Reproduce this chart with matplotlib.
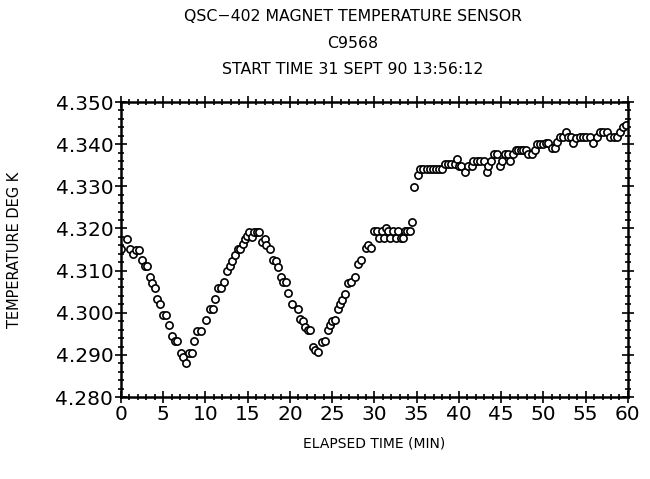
import numpy as np
import matplotlib.pyplot as plt
from matplotlib.ticker import MultipleLocator, FormatStrFormatter

# elapsed time (min) and sensor temperature (K)
t_min = [0.0, 0.7, 1.06, 1.38, 1.73, 2.1, 2.44, 2.8, 3.1, 3.4, 3.7, 4.0, 4.3, 4.65,
         5.0, 5.35, 5.7, 6.05, 6.4, 6.6, 7.1, 7.4, 7.7, 8.0, 8.4, 8.7, 9.05, 9.45,
         10.06, 10.5, 10.85, 11.1, 11.5, 11.9, 12.2, 12.5, 12.9, 13.2, 13.5, 13.8,
         14.1, 14.4, 14.7, 14.95, 15.2, 15.5, 15.7, 16.1, 16.4, 16.65, 17.0, 17.2,
         17.6, 17.95, 18.3, 18.6, 18.9, 19.2, 19.5, 19.8, 20.25, 20.9, 21.2, 21.6,
         21.8, 22.1, 22.4, 22.75, 23.0, 23.35, 23.75, 24.1, 24.45, 24.7, 25.0, 25.3,
         25.65, 25.9, 26.2, 26.5, 26.9, 27.2, 27.7, 28.0, 28.4, 28.95, 29.25, 29.6,
         29.9, 30.3, 30.6, 30.9, 31.1, 31.35, 31.6, 31.9, 32.2, 32.5, 32.8, 33.1,
         33.35, 33.6, 33.9, 34.2, 34.4, 34.7, 35.2, 35.4, 35.8, 36.2, 36.6, 36.9,
         37.3, 37.7, 38.05, 38.3, 38.7, 39.1, 39.5, 39.8, 40.0, 40.3, 40.7, 41.1,
         41.5, 41.7, 42.1, 42.5, 43.0, 43.3, 43.5, 43.8, 44.1, 44.5, 44.85, 45.05,
         45.4, 45.8, 46.0, 46.4, 46.7, 47.0, 47.3, 47.6, 47.9, 48.2, 48.6, 49.0,
         49.2, 49.6, 50.0, 50.3, 50.6, 51.0, 51.4, 51.6, 52.0, 52.3, 52.7, 52.95,
         53.3, 53.5, 53.9, 54.3, 54.7, 55.1, 55.5, 55.9, 56.3, 56.7, 57.1, 57.5,
         57.9, 58.3, 58.7, 59.1, 59.4, 59.8]
temp_k = [4.3151, 4.3175, 4.3151, 4.3139, 4.3150, 4.3150, 4.3126, 4.3110, 4.3110,
          4.3085, 4.3071, 4.3058, 4.3032, 4.3020, 4.2994, 4.2994, 4.2970, 4.2945,
          4.2932, 4.2932, 4.2905, 4.2895, 4.2880, 4.2905, 4.2905, 4.2932, 4.2957,
          4.2957, 4.2983, 4.3008, 4.3008, 4.3032, 4.3059, 4.3059, 4.3072, 4.3099,
          4.3111, 4.3123, 4.3138, 4.3151, 4.3151, 4.3164, 4.3176, 4.3182, 4.3191,
          4.3179, 4.3191, 4.3191, 4.3191, 4.3168, 4.3176, 4.3162, 4.3151, 4.3126,
          4.3123, 4.3109, 4.3086, 4.3074, 4.3074, 4.3046, 4.3021, 4.3009, 4.2986,
          4.2980, 4.2966, 4.2958, 4.2958, 4.2919, 4.2911, 4.2906, 4.2930, 4.2933,
          4.2958, 4.2972, 4.2981, 4.2983, 4.3008, 4.3021, 4.3031, 4.3044, 4.3071,
          4.3074, 4.3085, 4.3115, 4.3126, 4.3153, 4.3162, 4.3153, 4.3194, 4.3194,
          4.3177, 4.3195, 4.3177, 4.3201, 4.3194, 4.3177, 4.3194, 4.3177, 4.3194,
          4.3177, 4.3177, 4.3194, 4.3194, 4.3194, 4.3216, 4.3299, 4.3327, 4.3342,
          4.3342, 4.3342, 4.3342, 4.3342, 4.3342, 4.3342, 4.3342, 4.3353, 4.3353,
          4.3353, 4.3353, 4.3364, 4.3348, 4.3348, 4.3335, 4.3348, 4.3348, 4.3361,
          4.3361, 4.3361, 4.3361, 4.3335, 4.3348, 4.3361, 4.3376, 4.3376, 4.3348,
          4.3361, 4.3376, 4.3376, 4.3361, 4.3376, 4.3387, 4.3387, 4.3387, 4.3387,
          4.3387, 4.3376, 4.3376, 4.3387, 4.3400, 4.3400, 4.3400, 4.3402, 4.3402,
          4.3391, 4.3391, 4.3406, 4.3416, 4.3416, 4.3428, 4.3416, 4.3416, 4.3402,
          4.3414, 4.3416, 4.3416, 4.3416, 4.3416, 4.3402, 4.3416, 4.3428, 4.3428,
          4.3428, 4.3416, 4.3416, 4.3416, 4.3428, 4.3441, 4.3445]

title_lines = ["QSC\u2212402 MAGNET TEMPERATURE SENSOR", "C9568",
               "START TIME 31 SEPT 90 13:56:12"]

fig = plt.figure(figsize=(6.5, 4.79), dpi=100)
ax = fig.add_axes([0.186, 0.171, 0.780, 0.616])

ax.plot(t_min, temp_k, linestyle='none', marker='o', markersize=5.2,
        markerfacecolor='white', markeredgecolor='k', markeredgewidth=1.2)

ax.set_xlim(0, 60)
ax.set_ylim(4.280, 4.350)
ax.xaxis.set_major_locator(MultipleLocator(5))
ax.xaxis.set_minor_locator(MultipleLocator(1))
ax.yaxis.set_major_locator(MultipleLocator(0.010))
ax.yaxis.set_minor_locator(MultipleLocator(0.002))
ax.yaxis.set_major_formatter(FormatStrFormatter('%.3f'))

ax.tick_params(which='both', direction='inout', top=True, right=True, width=1.2)
ax.tick_params(which='major', length=9, labelsize=14.5, pad=1)
ax.tick_params(which='minor', length=5)
for s in ax.spines.values():
    s.set_linewidth(1.8)

ax.set_xlabel('ELAPSED TIME (MIN)', fontsize=10, labelpad=9)
ax.set_ylabel('TEMPERATURE DEG K', fontsize=10.5, labelpad=24)

for i, line in enumerate(title_lines):
    fig.text(0.543, 0.965 - i * 0.055, line, ha='center', va='center', fontsize=11.3)

fig.savefig('out.png', dpi=100)
